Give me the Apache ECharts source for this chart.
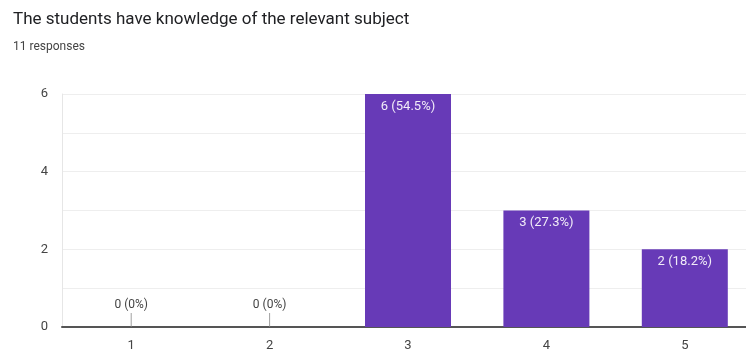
<!DOCTYPE html>
<html>
<head>
<meta charset="utf-8">
<script src="https://cdn.jsdelivr.net/npm/echarts@6/dist/echarts.min.js"></script>
<style>
  html, body { margin: 0; padding: 0; background: #fff; }
  #chart { width: 746px; height: 356px; }
</style>
</head>
<body>
<div id="chart"></div>
<script>
const categories = ["1", "2", "3", "4", "5"];
const counts = [0, 0, 6, 3, 2];
const percents = ["0%", "0%", "54.5%", "27.3%", "18.2%"];
const yTicks = [0, 2, 4, 6];

const chart = echarts.init(document.getElementById("chart"));

const barData = counts.map((v, i) => ({
  value: v,
  label: v === 0
    ? { position: "top", distance: 16, color: "#444", fontSize: 12 }
    : { position: "insideTop", distance: 6, color: "#f1ecf8", fontSize: 13 },
}));

// tiny leader ticks under the zero labels
const zeroTicks = counts
  .map((v, i) => (v === 0 ? [i, 0] : null))
  .filter(d => d !== null);

const option = {
  animation: false,
  title: [
    {
      text: "The students have knowledge of the relevant subject",
      left: 8,
      top: 6,
      textStyle: { fontFamily: "Roboto", fontSize: 17, fontWeight: "normal", color: "#202124" },
    },
    {
      text: "11 responses",
      left: 8,
      top: 36,
      textStyle: { fontFamily: "Roboto", fontSize: 12, fontWeight: "normal", color: "#444" },
    },
  ],
  grid: { left: 62, top: 94, right: -8, bottom: 29, outerBoundsMode: "none", containLabel: false },
  xAxis: {
    type: "category",
    data: categories,
    axisLine: { lineStyle: { color: "#555", width: 2 } },
    axisTick: { show: false },
    axisLabel: { fontFamily: "Roboto", fontSize: 13, color: "#444", margin: 12 },
  },
  yAxis: {
    type: "value",
    min: 0,
    max: 6,
    interval: 1,
    axisLine: { show: true, lineStyle: { color: "#e6e6e6" } },
    axisTick: { show: false },
    splitLine: { lineStyle: { color: "#eeeeee", width: 1 } },
    axisLabel: {
      fontFamily: "Roboto",
      fontSize: 13,
      color: "#444",
      margin: 14,
      formatter: v => (yTicks.includes(v) ? String(v) : ""),
    },
  },
  series: [
    {
      type: "bar",
      data: barData,
      barWidth: 86,
      itemStyle: { color: "#673AB7" },
      label: {
        show: true,
        fontFamily: "Roboto",
        formatter: p => `${counts[p.dataIndex]} (${percents[p.dataIndex]})`,
      },
    },
    {
      type: "scatter",
      data: zeroTicks,
      symbol: "rect",
      symbolSize: [1, 14],
      symbolOffset: [0, -7],
      itemStyle: { color: "#888" },
      silent: true,
      z: 1,
    },
  ],
};

chart.setOption(option);
</script>
</body>
</html>
